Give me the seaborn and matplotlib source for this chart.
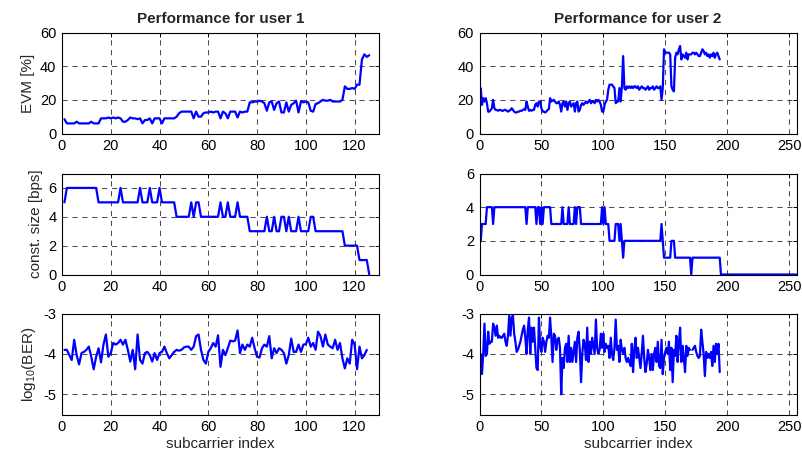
import numpy as np
import pandas as pd
import matplotlib
matplotlib.use('Agg')
import matplotlib.pyplot as plt
import seaborn as sns

# ==========================================
# DATA
# ==========================================
# user 1: subcarriers 1..126
u1_evm = [8.5, 6, 6, 6, 6, 7, 6, 6, 6, 6,
          6, 7, 6, 6, 6, 9, 9, 9, 9.5, 9,
          9.5, 9, 9.5, 9, 7, 7, 8, 9.5, 9, 9,
          8.5, 9, 6, 8, 8, 9, 6, 9, 9, 9,
          6, 9, 9, 9, 9, 9, 10, 12, 13, 13,
          13, 13, 13, 9, 13, 10, 10, 12, 12.5, 12.5,
          13, 12.5, 13, 13, 9, 13, 12, 9, 13, 13,
          13, 9.5, 13, 12.5, 13, 13, 18.5, 18.5, 19, 19,
          19.5, 19, 18, 13.5, 18.5, 19, 14, 18, 19, 12.5,
          12.5, 18.5, 13, 17, 18, 19.5, 12.5, 19, 18.5, 19,
          18.5, 13.5, 13, 17.5, 18, 19, 20, 19.5, 19.5, 20,
          19, 19, 19, 19, 20, 28, 26.5, 26.5, 27, 26.5,
          29, 29, 44, 47, 45.5, 46.5]

u1_const = [5, 6, 6, 6, 6, 6, 6, 6, 6, 6,
            6, 6, 6, 6, 5, 5, 5, 5, 5, 5,
            5, 5, 5, 6, 5, 5, 5, 5, 5, 5,
            5, 6, 5, 5, 5, 6, 5, 5, 5, 6,
            5, 5, 5, 5, 5, 5, 4, 4, 4, 4,
            4, 4, 5, 4, 5, 5, 4, 4, 4, 4,
            4, 4, 4, 4, 5, 4, 4, 5, 4, 4,
            4, 5, 4, 4, 4, 4, 3, 3, 3, 3,
            3, 3, 3, 4, 3, 3, 4, 3, 3, 4,
            4, 3, 4, 3, 3, 3, 4, 3, 3, 3,
            3, 4, 4, 3, 3, 3, 3, 3, 3, 3,
            3, 3, 3, 3, 3, 2, 2, 2, 2, 2,
            2, 1, 1, 1, 1, 0]

u1_ber = [-3.9, -3.9, -4.03, -4.15, -3.65, -4.03, -4.26, -3.98, -3.95, -3.9,
          -3.82, -4.07, -4.38, -4.07, -3.86, -4.21, -3.77, -3.52, -4.07, -3.98,
          -3.73, -3.77, -3.73, -3.65, -3.77, -3.65, -3.9, -4.19, -3.9, -4.38,
          -3.52, -4.15, -4.24, -3.98, -3.95, -4.03, -4.19, -3.98, -4.15, -3.98,
          -3.95, -3.82, -3.98, -4.11, -4.03, -3.95, -3.9, -3.92, -3.9, -3.84,
          -3.82, -3.82, -3.9, -3.82, -3.56, -3.52, -3.9, -4.15, -4.24, -3.95,
          -3.86, -3.73, -3.82, -3.54, -4.32, -3.9, -4.03, -3.86, -3.67, -3.69,
          -3.67, -3.42, -3.98, -3.77, -3.9, -3.77, -3.82, -3.6, -3.86, -4.07,
          -4.09, -3.86, -3.77, -3.82, -3.56, -4.11, -3.86, -3.98, -3.86, -3.9,
          -3.98, -4.24, -4.03, -3.62, -3.95, -3.95, -3.77, -3.95, -3.77, -3.76,
          -3.6, -3.82, -3.73, -3.9, -3.45, -3.56, -3.82, -3.52, -3.77, -3.82,
          -3.86, -3.65, -3.9, -3.73, -4.11, -4.36, -4.11, -4.24, -3.65, -3.77,
          -4.38, -3.82, -4.11, -4.03, -3.9, np.nan]

# user 2: EVM / BER on subcarriers 1..194, constellation on 1..256
u2_evm = [27, 17, 21, 19, 21, 18, 13, 13, 14, 15,
          20, 15, 14, 14, 13.5, 14, 14, 13.5, 13.5, 14,
          14, 13.5, 13, 13.5, 14, 15, 14, 13, 12.5, 12.5,
          13, 13, 13.5, 13.5, 14, 14.5, 14, 19, 16, 13.5,
          14, 13.5, 14, 14, 17, 18, 16, 19, 19, 15,
          13, 13, 12.5, 13, 14, 14.5, 21, 19, 19.5, 20,
          19, 18, 18, 19, 17, 13, 18, 19, 16, 19,
          14, 18, 19, 16, 17, 18, 13, 18, 19, 13,
          14, 17, 18, 17, 18, 19, 18, 19, 20, 18,
          19, 19, 18, 20, 19, 20, 19, 17, 13, 13,
          17, 19, 20, 26, 29, 29, 29, 28, 27, 18,
          19, 19, 27, 19, 28, 46, 27, 26, 28, 27,
          28, 27, 28, 27, 28, 28, 27, 28, 26, 27,
          28, 27, 27, 26, 27, 28, 26, 27, 27, 28,
          26, 27, 28, 27, 27, 28, 20, 27, 50, 48,
          48, 48, 48, 47, 28, 26, 25, 45, 48, 47,
          50, 52, 44, 47, 46, 45, 48, 44, 47, 47,
          47, 48, 48, 47, 48, 47, 46, 46, 48, 50,
          49, 47, 48, 46, 47, 45, 47, 46, 48, 45,
          47, 48, 46, 44]

u2_const = [2, 3, 3, 3, 3, 4, 4, 4, 4, 4,
            3, 4, 4, 4, 4, 4, 4, 4, 4, 4,
            4, 4, 4, 4, 4, 4, 4, 4, 4, 4,
            4, 4, 4, 4, 4, 4, 4, 3, 4, 4,
            4, 4, 4, 4, 4, 3, 4, 4, 3, 4,
            3, 4, 4, 4, 4, 4, 4, 3, 3, 3,
            3, 3, 3, 3, 3, 3, 4, 3, 3, 3,
            3, 4, 3, 3, 3, 3, 4, 3, 4, 4,
            4, 3, 3, 3, 3, 3, 3, 3, 3, 3,
            3, 3, 3, 3, 3, 3, 3, 3, 4, 3,
            4, 3, 3, 3, 2, 2, 2, 2, 2, 3,
            3, 3, 2, 3, 2, 1, 2, 2, 2, 2,
            2, 2, 2, 2, 2, 2, 2, 2, 2, 2,
            2, 2, 2, 2, 2, 2, 2, 2, 2, 2,
            2, 2, 2, 2, 2, 2, 3, 2, 1, 1,
            1, 1, 1, 1, 2, 2, 2, 1, 1, 1,
            1, 1, 1, 1, 1, 1, 1, 1, 1, 1,
            0, 1, 1, 1, 1, 1, 1, 1, 1, 1,
            1, 1, 1, 1, 1, 1, 1, 1, 1, 1,
            1, 1, 1, 1, 0, 0, 0, 0, 0, 0,
            0, 0, 0, 0, 0, 0, 0, 0, 0, 0,
            0, 0, 0, 0, 0, 0, 0, 0, 0, 0,
            0, 0, 0, 0, 0, 0, 0, 0, 0, 0,
            0, 0, 0, 0, 0, 0, 0, 0, 0, 0,
            0, 0, 0, 0, 0, 0, 0, 0, 0, 0,
            0, 0, 0, 0, 0, 0]

u2_ber = [-4.0, -4.5, -4.0, -3.25, -4.05, -4.0, -3.45, -3.75, -3.7, -3.7,
          -3.25, -3.35, -3.55, -3.3, -3.6, -3.55, -3.6, -3.6, -3.55, -3.5,
          -3.7, -3.8, -3.55, -3.05, -3.55, -3.1, -3.05, -3.5, -3.7, -3.95,
          -3.9, -3.8, -3.7, -3.55, -3.4, -3.3, -3.6, -4.0, -3.4, -3.1,
          -4.0, -3.35, -3.7, -3.35, -3.85, -4.35, -4.4, -3.1, -3.8, -3.95,
          -3.6, -3.7, -3.95, -3.7, -3.55, -3.6, -3.1, -3.6, -4.2, -3.5,
          -3.55, -3.9, -3.65, -3.6, -3.85, -5.0, -4.1, -4.35, -3.85, -3.75,
          -4.2, -3.55, -4.2, -3.85, -4.2, -3.95, -3.7, -4.2, -3.6, -3.45,
          -3.9, -4.7, -4.0, -3.65, -3.75, -4.15, -3.35, -4.2, -3.7, -4.0,
          -3.6, -3.8, -4.0, -3.15, -3.85, -4.0, -3.9, -3.5, -3.85, -3.5,
          -3.95, -3.75, -3.85, -3.8, -4.1, -3.6, -4.0, -4.15, -3.85, -3.15,
          -3.9, -3.8, -4.2, -3.65, -3.9, -4.0, -3.85, -4.1, -4.2, -4.1,
          -4.2, -4.3, -3.75, -4.45, -3.9, -3.6, -4.1, -3.85, -4.1, -4.35,
          -4.0, -3.55, -4.1, -4.45, -4.25, -3.9, -4.1, -4.4, -4.0, -4.4,
          -4.0, -3.85, -4.2, -3.7, -4.3, -4.35, -3.65, -4.5, -4.1, -3.95,
          -3.85, -4.0, -3.7, -4.4, -3.85, -4.7, -3.9, -4.05, -3.55, -4.2,
          -3.75, -3.35, -4.2, -3.8, -4.1, -4.45, -3.8, -4.05, -3.85, -3.9,
          np.nan, -3.9, -3.85, -3.8, -3.95, -4.05, -4.1, -4.05, -3.4, -3.7,
          -4.0, -4.55, -3.95, -4.1, -4.0, -4.1, -3.95, -4.3, -3.8, -4.2,
          -3.75, -4.0, -3.75, -4.45]

titles = ['Performance for user 1', 'Performance for user 2']
ylabels = ['EVM [%]', 'const. size [bps]', 'log$_{10}$(BER)']

# ==========================================
# STYLE
# ==========================================
sns.set_style('white')
plt.rcParams['font.family'] = ['Liberation Sans', 'DejaVu Sans']
plt.rcParams['font.size'] = 10
plt.rcParams['mathtext.fontset'] = 'custom'
plt.rcParams['mathtext.rm'] = 'Liberation Sans'
plt.rcParams['mathtext.it'] = 'Liberation Sans'

fig = plt.figure(figsize=(8.03, 4.55), dpi=100)

col_x = [62 / 803, 479.5 / 803]
col_w = [317 / 803, 317 / 803]
row_top = [32.5, 173.5, 313.5]
row_h = 101

def frame(ax, xlim, xticks, ylim, yticks):
    ax.set_xlim(*xlim)
    ax.set_ylim(*ylim)
    ax.set_xticks(xticks)
    ax.set_yticks(yticks)
    ax.grid(True, color='0.3', linestyle=(0, (5, 4.5)), linewidth=0.75)
    ax.tick_params(direction='in', top=True, right=True, length=3, width=0.7,
                   labelsize=10.5, colors='black', pad=4)
    for s in ax.spines.values():
        s.set_visible(True)
        s.set_color('black')
        s.set_linewidth(0.8)
    ax.set_xlabel('')
    ax.set_ylabel('')

users = [
    dict(evm=u1_evm, const=u1_const, ber=u1_ber, xlim=(0, 130),
         xticks=[0, 20, 40, 60, 80, 100, 120], cyl=(0, 7), cticks=[0, 2, 4, 6]),
    dict(evm=u2_evm, const=u2_const, ber=u2_ber, xlim=(0, 256),
         xticks=[0, 50, 100, 150, 200, 250], cyl=(0, 6), cticks=[0, 2, 4, 6]),
]

for c, u in enumerate(users):
    series = [u['evm'], u['const'], u['ber']]
    ylims = [(0, 60), u['cyl'], (-5.5, -3)]
    yticks = [[0, 20, 40, 60], u['cticks'], [-5, -4, -3]]
    for r in range(3):
        bottom = 1 - (row_top[r] + row_h) / 455
        ax = fig.add_axes([col_x[c], bottom, col_w[c], row_h / 455])
        vals = series[r]
        df = pd.DataFrame({'x': np.arange(1, len(vals) + 1), 'y': vals})
        # split at gaps so the line breaks where there is no value
        grp = df['y'].isna().cumsum()
        for _, part in df.dropna().groupby(grp[df['y'].notna()]):
            sns.lineplot(data=part, x='x', y='y', ax=ax, color='#0000ff',
                         linewidth=1.6, estimator=None, sort=False)
        frame(ax, u['xlim'], u['xticks'], ylims[r], yticks[r])
        if r == 0:
            ax.set_title(titles[c], fontsize=11, fontweight='bold', pad=7)
        if c == 0:
            ax.set_ylabel(ylabels[r], fontsize=11, labelpad=4)
        if r == 2:
            ax.set_xlabel('subcarrier index', fontsize=11, labelpad=2)
        ax.set_yticklabels([str(t) for t in yticks[r]])

plt.savefig('out.png', dpi=100)
